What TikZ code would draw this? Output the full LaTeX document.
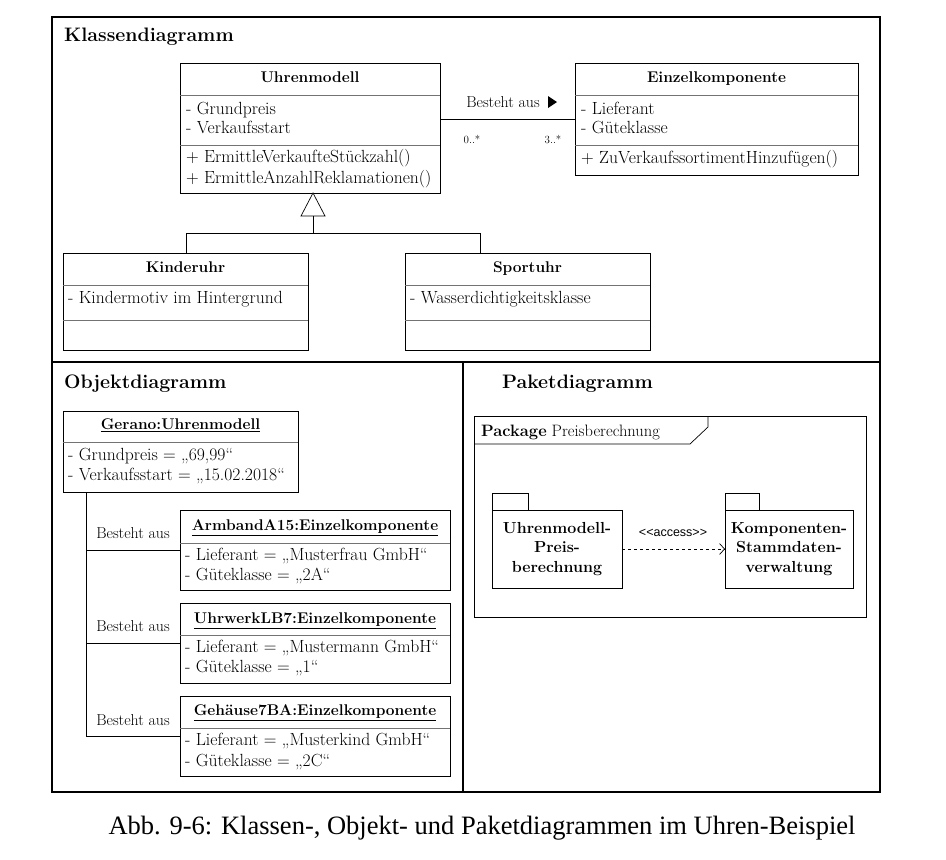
\documentclass[tikz,border=0pt]{standalone}
\usepackage{fontspec}
\newfontfamily\capfont{Liberation Serif}
\newfontfamily\accfont{Liberation Sans}
\usetikzlibrary{arrows.meta}
\begin{document}
\begin{tikzpicture}[x=1pt,y=-1pt,
  every node/.style={font=\fontsize{17.6}{20}\selectfont},
  frame/.style={line width=1.6pt},
  box/.style={draw, line width=0.8pt, inner sep=0, outer sep=0},
  sep/.style={draw=black!55, line width=0.7pt},
  lbl/.style={anchor=west, inner sep=0, text height=12.5pt, text depth=4pt},
  rel/.style={inner sep=0, font=\fontsize{15.8}{18}\selectfont},
  ttl/.style={inner sep=0, font=\fontsize{15.5}{18}\selectfont\bfseries, text height=11pt, text depth=4pt},
  head/.style={anchor=west, inner sep=0, font=\fontsize{19.5}{23}\selectfont\bfseries},
  mult/.style={inner sep=0, font=\fontsize{11}{13}\selectfont},
  pkgtxt/.style={inner sep=0, align=center, font=\fontsize{16}{19.5}\selectfont\bfseries},
  conn/.style={line width=0.7pt}
]
\useasboundingbox (0,0) rectangle (946,860);
\fill[white] (0,0) rectangle (946,860);

% frames
\draw[frame] (52,17) rectangle (880,792);
\draw[frame] (52,362) -- (880,362);
\draw[frame] (463,362) -- (463,792);

\node[head] (hk) at (64,37) {Klassendiagramm};
\node[head] (ho) at (64,384) {Objektdiagramm};
\node[head] (hp) at (502,384) {Paketdiagramm};

% ---------- Klassendiagramm
\node[box, minimum width=260, minimum height=130] (um) at (310,128) {};
\draw[sep] (um.west |- 0,95) -- (um.east |- 0,95);
\draw[sep] (um.west |- 0,145) -- (um.east |- 0,145);
\node[ttl] (umt) at (310,79) {Uhrenmodell};
\node[lbl] (uma1) at (186,110) {- Grundpreis};
\node[lbl] (uma2) at (186,129) {- Verkaufsstart};
\node[lbl] (umo1) at (186,158) {+ ErmittleVerkaufteStückzahl()};
\node[lbl] (umo2) at (186,179) {+ ErmittleAnzahlReklamationen()};

\node[box, minimum width=283, minimum height=112] (ek) at (716.5,119) {};
\draw[sep] (ek.west |- 0,95) -- (ek.east |- 0,95);
\draw[sep] (ek.west |- 0,145) -- (ek.east |- 0,145);
\node[ttl] (ekt) at (716.5,79) {Einzelkomponente};
\node[lbl] (eka1) at (581,110) {- Lieferant};
\node[lbl] (eka2) at (581,129) {- Güteklasse};
\node[lbl] (eko1) at (581,159) {+ ZuVerkaufssortimentHinzufügen()};

\draw[conn] (um.east |- ek.west) -- (ek.west);
\node[rel] (ass) at (503,102) {Besteht aus};
\fill (548,96) -- (557,102) -- (548,108) -- cycle;
\node[mult] (m1) at (472,139) {0..*};
\node[mult] (m2) at (553,139) {3..*};

\node[box, minimum width=245, minimum height=97] (ku) at (185.5,301.5) {};
\draw[sep] (ku.west |- 0,285) -- (ku.east |- 0,285);
\draw[sep] (ku.west |- 0,320) -- (ku.east |- 0,320);
\node[ttl] (kut) at (185.5,269) {Kinderuhr};
\node[lbl] (kua) at (68,299) {- Kindermotiv im Hintergrund};

\node[box, minimum width=245, minimum height=97] (su) at (527.5,301.5) {};
\draw[sep] (su.west |- 0,285) -- (su.east |- 0,285);
\draw[sep] (su.west |- 0,320) -- (su.east |- 0,320);
\node[ttl] (sut) at (527.5,269) {Sportuhr};
\node[lbl] (sua) at (410,299) {- Wasserdichtigkeitsklasse};

\draw[conn, fill=white] ([xshift=3pt]um.south) -- ++(-12,23) -- ++(24,0) -- cycle;
\coordinate (tb) at (313,216);
\coordinate (gj) at (313,233);
\coordinate (kj) at (186,253);
\coordinate (sj) at (480,253);
\draw[conn] (tb) -- (gj);
\draw[conn] (gj) -| (kj);
\draw[conn] (gj) -| (sj);

% ---------- Objektdiagramm
\node[box, minimum width=235, minimum height=81] (ge) at (180.5,451.5) {};
\draw[sep] (ge.west |- 0,442) -- (ge.east |- 0,442);
\node[ttl] (get) at (180.5,426) {\underline{Gerano:Uhrenmodell}};
\node[lbl] (gea1) at (68,456) {- Grundpreis = „69,99“};
\node[lbl] (gea2) at (68,476) {- Verkaufsstart = „15.02.2018“};

\node[box, minimum width=270, minimum height=80] (ar) at (315,550) {};
\draw[sep] (ar.west |- 0,543) -- (ar.east |- 0,543);
\node[ttl] (art) at (315,527) {\underline{ArmbandA15:Einzelkomponente}};
\node[lbl] (ara1) at (185,556) {- Lieferant = „Musterfrau GmbH“};
\node[lbl] (ara2) at (185,576) {- Güteklasse = „2A“};

\node[box, minimum width=270, minimum height=80] (uw) at (315,643) {};
\draw[sep] (uw.west |- 0,635) -- (uw.east |- 0,635);
\node[ttl] (uwt) at (315,620) {\underline{UhrwerkLB7:Einzelkomponente}};
\node[lbl] (uwa1) at (185,648) {- Lieferant = „Mustermann GmbH“};
\node[lbl] (uwa2) at (185,668) {- Güteklasse = „1“};

\node[box, minimum width=270, minimum height=80] (gh) at (315,736) {};
\draw[sep] (gh.west |- 0,728) -- (gh.east |- 0,728);
\node[ttl] (ght) at (315,712) {\underline{Gehäuse7BA:Einzelkomponente}};
\node[lbl] (gha1) at (185,741) {- Lieferant = „Musterkind GmbH“};
\node[lbl] (gha2) at (185,762) {- Güteklasse = „2C“};

\coordinate (gb) at (86,492);
\draw[conn] (gb) |- (ar.west);
\draw[conn] (gb) |- (uw.west);
\draw[conn] (gb) |- (gh.west);
\node[rel] (b1) at (133,533) {Besteht aus};
\node[rel] (b2) at (133,626) {Besteht aus};
\node[rel] (b3) at (133,720) {Besteht aus};

% ---------- Paketdiagramm
\node[box, minimum width=392, minimum height=201] (pf) at (670,516.5) {};
\draw[conn] (pf.west |- 0,444) -- (690,444) -- (708,427) -- (708,416);
\node[lbl] (pft) at (481,432) {\fontsize{16.5}{19}\selectfont\textbf{Package} Preisberechnung};

\node[box, minimum width=130, minimum height=78] (p1) at (557,549) {};
\draw[box] (p1.north west) rectangle ++(36,-17);
\node[pkgtxt] (p1t) at (557,549) {Uhrenmodell-\\Preis-\\berechnung};

\node[box, minimum width=128, minimum height=78] (p2) at (789,549) {};
\draw[box] (p2.north west) rectangle ++(34,-17);
\node[pkgtxt] (p2t) at (789,549) {Komponenten-\\Stammdaten-\\verwaltung};

\draw[conn, dashed, -{Straight Barb[length=5pt,width=11pt]}] (p1.east) -- (p2.west);
\node[inner sep=0, font=\accfont\fontsize{12.5}{14}\selectfont] (acc) at (673,533) {<<access>>};

% ---------- caption
\node[inner sep=0, font=\capfont\fontsize{26.5}{30}\selectfont] (cap) at (482,828) {Abb. 9-6: Klassen-, Objekt- und Paketdiagrammen im Uhren-Beispiel};
\end{tikzpicture}
\end{document}
